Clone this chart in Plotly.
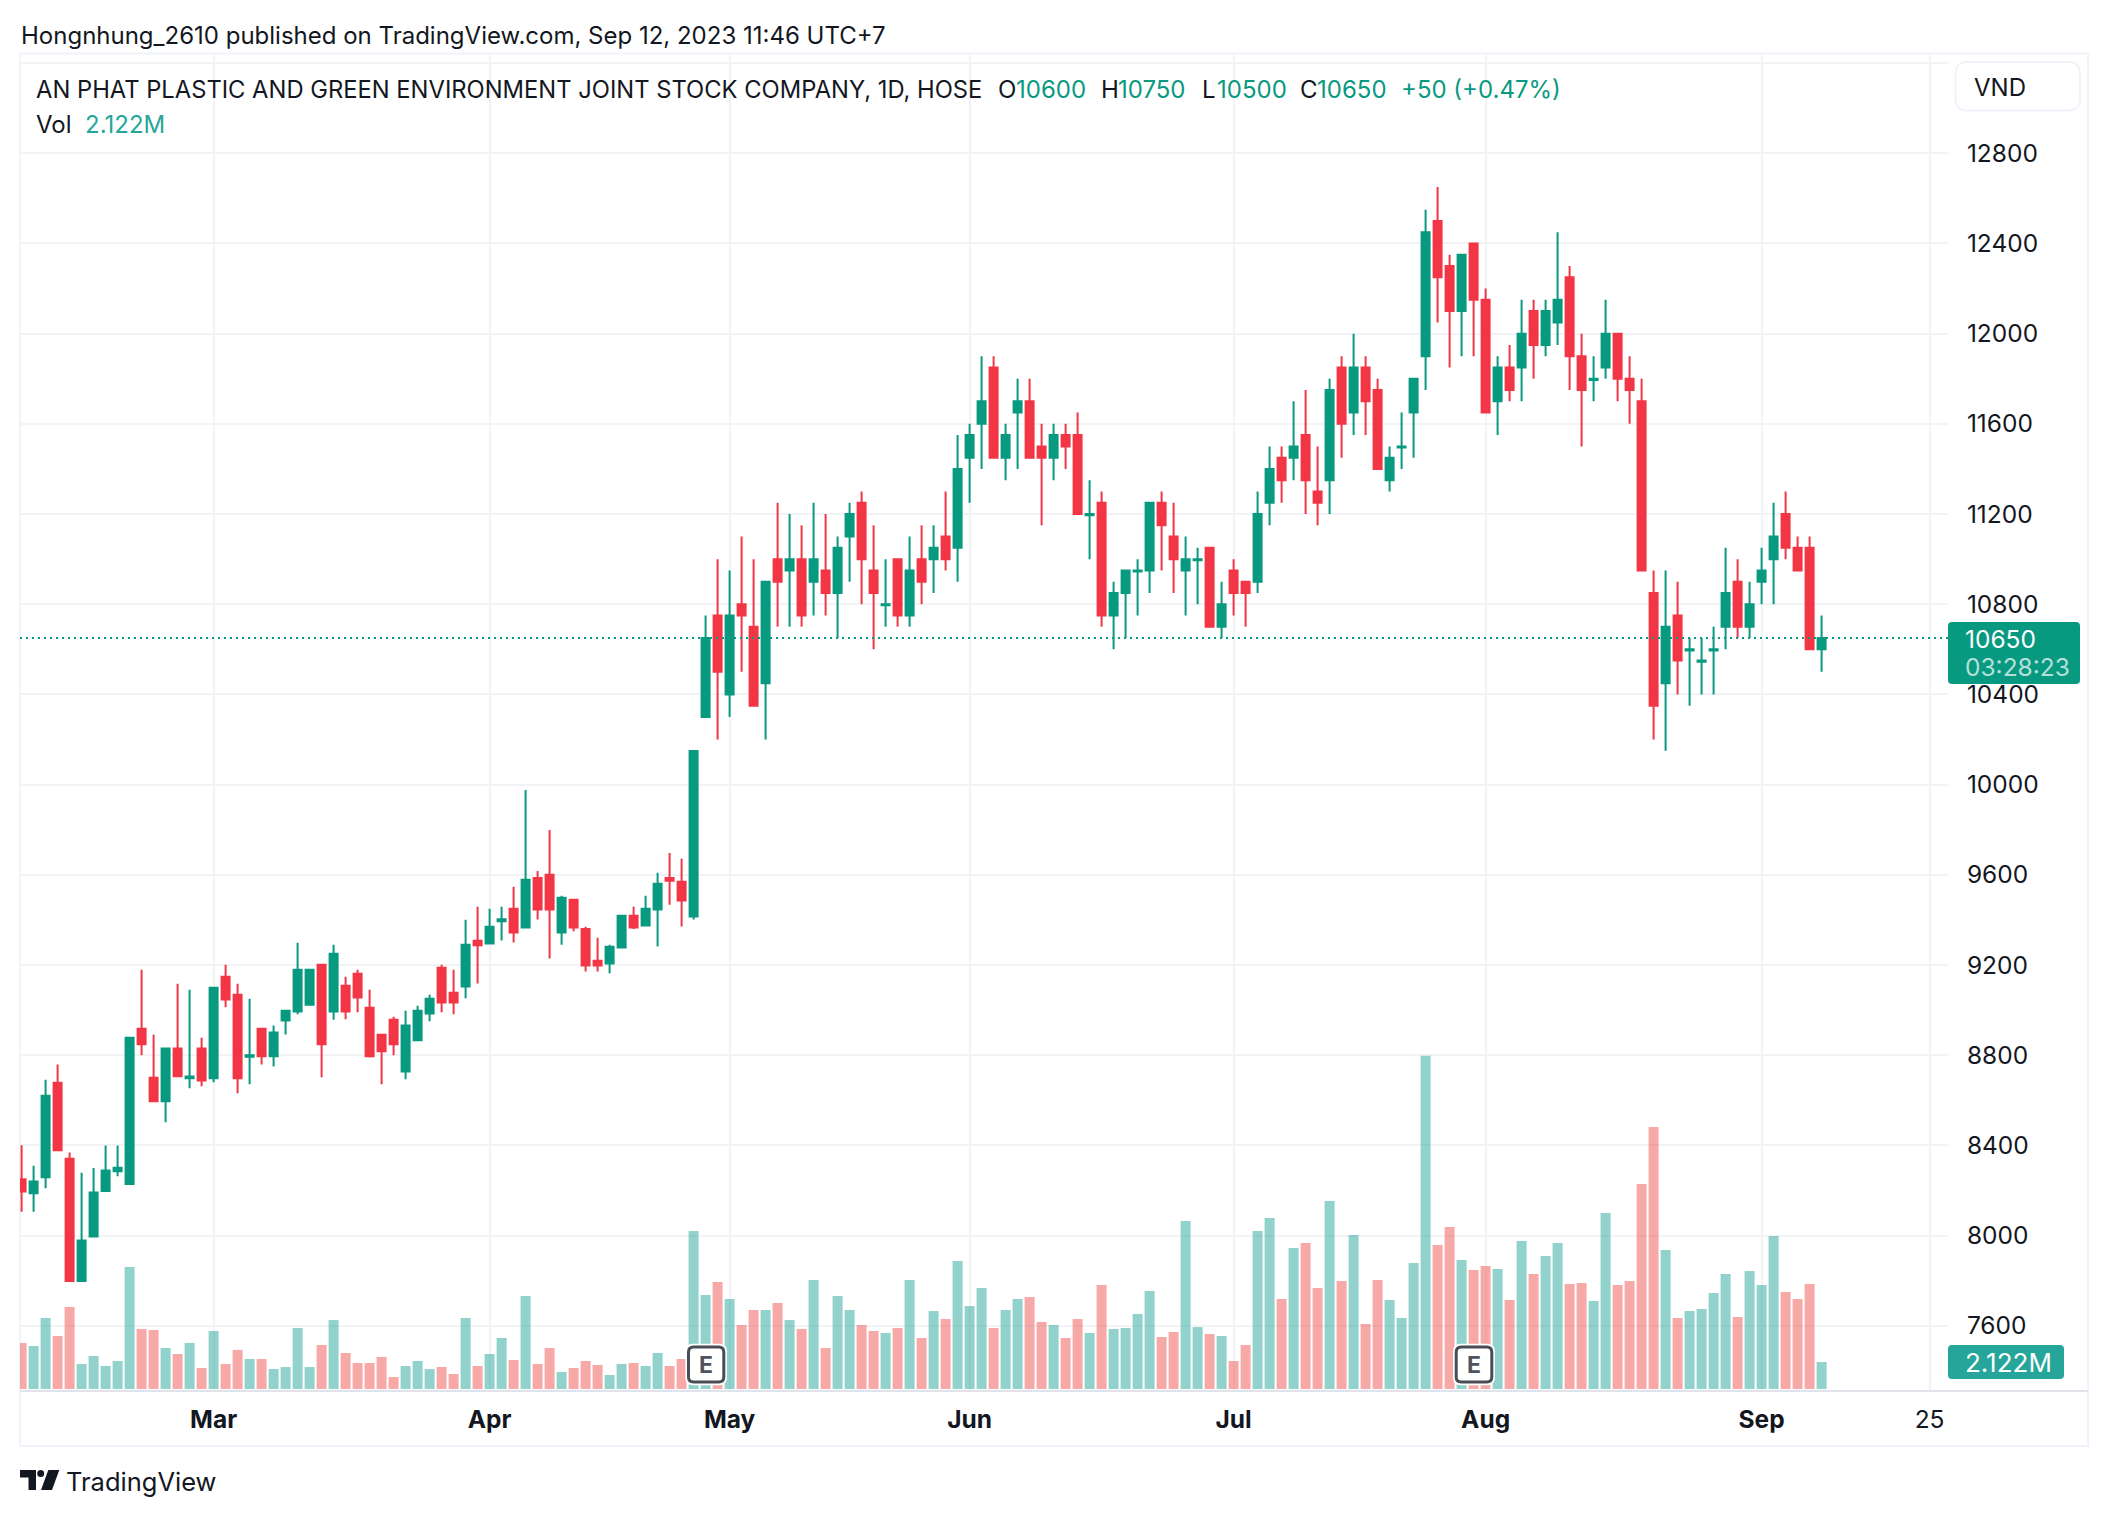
import plotly.graph_objects as go

W, H = 2108, 1516
L, R, T, B = 20, 1948, 54, 1391
FONT = "Inter"
INK = "#131722"
UP, DOWN = "#089981", "#f23645"
VOL_UP, VOL_DOWN = "rgba(38,166,154,0.5)", "rgba(239,83,80,0.5)"
GRID = "#f2f3f6"
FRAME = "#f0f3fa"

opens = [8250,8188,8259,8678,8341,7798,7996,8197,8285,8228,
 8917,8700,8595,8829,8698,8829,8697,9148,9068,8793,
 8917,8795,8954,8994,9024,9201,8994,9108,9161,9010,
 8891,8957,8728,8866,8985,9188,9077,9105,9307,9295,
 9394,9449,9366,9586,9600,9344,9489,9360,9219,9207,
 9278,9418,9375,9446,9586,9569,9415,10300,10750,10400,
 10800,10700,10450,11000,10950,11000,10900,10950,10850,11100,
 11250,10950,10795,11000,10750,11000,11000,11100,11050,11450,
 11600,11850,11450,11650,11700,11500,11450,11550,11550,11195,
 11250,10750,10850,10945,10950,11250,11100,10950,10995,11050,
 10700,10950,10900,10900,11250,11450,11450,11550,11300,11350,
 11850,11650,11850,11750,11350,11495,11650,11900,12500,12300,
 12100,12400,12150,11700,11850,11850,12100,11950,12050,12250,
 11900,11795,11850,12000,11800,11700,10850,10450,10750,10595,
 10545,10595,10700,10900,10700,10900,11000,11200,11050,11050,
 10600]
highs = [8400,8310,8691,8758,8368,8278,8300,8399,8399,8877,
 9179,8891,8829,9117,9090,8877,9099,9201,9117,9050,
 8917,8931,8997,9298,9179,9201,9290,9148,9179,9090,
 8891,8970,8997,9019,9068,9201,9179,9400,9458,9449,
 9458,9547,9976,9617,9799,9507,9489,9369,9321,9290,
 9418,9458,9507,9609,9697,9671,10149,10750,11000,10950,
 11100,11000,10900,11250,11200,11150,11250,11200,11100,11250,
 11300,11150,11000,11000,11100,11150,11150,11300,11550,11600,
 11900,11900,11600,11800,11800,11600,11600,11600,11650,11350,
 11300,10900,10950,11000,11250,11300,11250,11100,11050,11050,
 10900,11000,10900,11300,11500,11500,11700,11750,11500,11800,
 11900,12000,11900,11800,11500,11650,11800,12550,12650,12350,
 12350,12400,12200,11900,11950,12150,12150,12150,12450,12300,
 12000,11900,12150,12000,11900,11800,10950,10950,10900,10650,
 10650,10700,11050,11000,10900,11050,11250,11300,11100,11100,
 10750]
lows = [8105,8105,8210,8378,7798,7798,7996,8197,8263,8228,
 8799,8591,8502,8706,8653,8662,8680,9012,8631,8671,
 8759,8750,8892,8981,9019,8702,8957,8959,8990,8790,
 8671,8799,8693,8866,8950,8990,8981,9052,9118,9295,
 9309,9300,9366,9402,9229,9290,9349,9171,9171,9163,
 9278,9360,9375,9282,9467,9371,9402,10300,10200,10300,
 10500,10350,10200,10700,10700,10700,10750,10750,10650,10900,
 10800,10600,10700,10700,10700,10800,10850,10950,10900,11250,
 11400,11450,11350,11400,11450,11150,11350,11400,11200,11000,
 10700,10600,10650,10750,10850,10950,10850,10750,10800,10700,
 10650,10750,10700,10850,11150,11250,11350,11200,11150,11200,
 11450,11550,11550,11400,11300,11400,11450,11750,12050,11850,
 11900,11900,11650,11550,11700,11700,11800,11900,11950,11750,
 11500,11700,11800,11700,11600,10950,10200,10150,10400,10350,
 10400,10400,10600,10650,10650,10800,10800,11000,10950,10600,
 10500]
closes = [8195,8240,8620,8378,7798,7978,8191,8288,8301,8877,
 8848,8595,8829,8706,8705,8688,9099,9047,8697,8799,
 8795,8900,8997,9179,9179,8848,9250,8994,9056,8795,
 8817,8848,8931,8997,9050,9034,9034,9290,9287,9369,
 9403,9344,9578,9446,9446,9498,9366,9198,9198,9281,
 9418,9366,9449,9560,9573,9486,10149,10650,10500,10750,
 10750,10350,10900,10900,11000,10750,11000,10850,11050,11200,
 11000,10850,10800,10750,10950,10900,11050,11000,11400,11550,
 11700,11450,11550,11700,11450,11450,11550,11500,11200,11200,
 10750,10850,10950,10950,11250,11150,11000,11000,11000,10700,
 10800,10850,10850,11200,11400,11350,11500,11350,11250,11750,
 11600,11850,11700,11400,11450,11500,11800,12450,12250,12100,
 12350,12150,11650,11850,11750,12000,11950,12100,12150,11900,
 11750,11800,12000,11800,11750,10950,10350,10700,10550,10600,
 10550,10600,10850,10700,10800,10950,11100,11050,10950,10600,
 10650]
volumes_m = [3.62,3.38,5.58,4.17,6.45,1.97,2.59,1.81,2.20,9.59,
 4.72,4.64,3.22,2.75,3.62,1.65,4.56,1.97,3.07,2.36,
 2.36,1.57,1.73,4.79,1.73,3.46,5.42,2.83,2.04,2.04,
 2.52,0.94,1.81,2.20,1.57,1.73,1.18,5.58,1.81,2.75,
 4.01,2.28,7.31,1.97,3.22,1.34,1.65,2.20,1.89,1.10,
 1.97,2.04,1.81,2.83,1.81,2.36,12.42,7.39,8.41,7.07,
 5.03,6.21,6.21,6.76,5.42,4.72,8.57,3.22,7.31,6.21,
 5.03,4.56,4.40,4.79,8.57,4.01,6.13,5.50,10.06,6.52,
 7.94,4.79,6.21,7.07,7.23,5.27,5.03,4.01,5.50,4.40,
 8.17,4.72,4.79,5.90,7.70,4.09,4.48,13.20,4.87,4.32,
 4.17,2.20,3.46,12.42,13.44,7.07,11.08,11.48,7.94,14.78,
 8.49,12.10,5.11,8.57,7.00,5.58,9.90,26.20,11.32,12.73,
 10.14,9.35,9.67,9.43,7.00,11.63,9.04,10.45,11.48,8.25,
 8.33,6.92,13.83,8.17,8.49,16.11,20.59,10.93,5.58,6.13,
 6.29,7.55,9.04,5.66,9.27,8.17,12.03,7.62,7.07,8.25,
 2.12]
bars = list(range(len(opens)))

price_ticks = [7600,8000,8400,8800,9200,9600,10000,10400,10800,11200,11600,12000,12400,12800,13200]
price_labels = [str(p) for p in price_ticks[:-1]] + [""]
time_ticks = [16,39,59,79,101,122,145,159]
time_labels = ["<b>Mar</b>","<b>Apr</b>","<b>May</b>","<b>Jun</b>","<b>Jul</b>","<b>Aug</b>","<b>Sep</b>","25"]
last_price = 10650
earnings_px = [(687.3,725.0),(1455.0,1493.0)]

def fx(px):
    return (px - L) / (R - L)
def fy(py):
    return (B - py) / (B - T)

def rrect(x0, y0, x1, y1, r):
    a, b, c, d = fx(x0), fx(x1), fy(y0), fy(y1)
    rx, ry = r / (R - L), r / (B - T)
    return (f"M{a+rx},{c} L{b-rx},{c} Q{b},{c} {b},{c-ry} L{b},{d+ry} Q{b},{d} {b-rx},{d} "
            f"L{a+rx},{d} Q{a},{d} {a},{d+ry} L{a},{c-ry} Q{a},{c} {a+rx},{c} Z")

def poly(pts):
    return "M" + " L".join(f"{fx(x)},{fy(y)}" for x, y in pts) + " Z"

def pshape(path, fill="rgba(0,0,0,0)", line=None, width=0):
    return dict(type="path", xref="paper", yref="paper", path=path, fillcolor=fill,
                line=dict(color=line or "rgba(0,0,0,0)", width=width), layer="above")

def txt(x, y, s, color=INK, size=24, anchor="left", bold=False):
    return dict(xref="paper", yref="paper", x=fx(x), y=fy(y), text=f"<b>{s}</b>" if bold else s,
                showarrow=False, xanchor=anchor, yanchor="middle", borderpad=0,
                font=dict(family=FONT, size=size, color=color))

vol_colors = [VOL_UP if c >= o else VOL_DOWN for o, c in zip(opens, closes)]

fig = go.Figure()
fig.add_trace(go.Candlestick(
    x=bars, open=opens, high=highs, low=lows, close=closes, yaxis="y", xaxis="x",
    increasing=dict(line=dict(color=UP, width=2), fillcolor=UP),
    decreasing=dict(line=dict(color=DOWN, width=2), fillcolor=DOWN),
    whiskerwidth=0, showlegend=False))
fig.add_trace(go.Bar(x=bars, y=volumes_m, yaxis="y2", xaxis="x",
                     marker=dict(color=vol_colors, line=dict(width=0)), showlegend=False))

shapes = [
    dict(type="rect", xref="paper", yref="paper", x0=fx(20), x1=fx(2088), y0=fy(53.5), y1=fy(1446),
         line=dict(color=FRAME, width=2), fillcolor="rgba(0,0,0,0)", layer="below"),
    dict(type="line", xref="paper", yref="paper", x0=fx(20), x1=fx(2088), y0=fy(1391), y1=fy(1391),
         line=dict(color="#e0e3eb", width=2), layer="above"),
    dict(type="line", xref="paper", yref="y", x0=0, x1=1, y0=last_price, y1=last_price,
         line=dict(color=UP, width=2, dash="2px,4px"), layer="above"),
    pshape(rrect(1948, 622, 2080, 684, 4), fill=UP),
    pshape(rrect(1948, 1345, 2064, 1379, 4), fill="#26a69a"),
    pshape(rrect(1955.5, 62, 2080, 110.5, 12), fill="#ffffff", line=FRAME, width=2),
    pshape(poly([(20,1470),(36,1470),(36,1490),(28.5,1490),(28.5,1477.5),(20,1477.5)]), fill=INK),
    pshape(poly([(48.3,1470),(59.3,1470),(52,1490),(41,1490)]), fill=INK),
    dict(type="circle", xref="paper", yref="paper", x0=fx(37.2), x1=fx(44.2), y0=fy(1470), y1=fy(1477),
         fillcolor=INK, line=dict(width=0), layer="above"),
]
annotations = [
    txt(20, 36, "Hongnhung_2610 published on TradingView.com, Sep 12, 2023 11:46 UTC+7", size=24),
    txt(35, 89.5, "AN PHAT PLASTIC AND GREEN ENVIRONMENT JOINT STOCK COMPANY, 1D, HOSE", size=23.75),
    txt(997, 89.5, "O"), txt(1015, 89.5, "10600", UP),
    txt(1100, 89.5, "H"), txt(1117, 89.5, "10750", UP),
    txt(1201, 89.5, "L"), txt(1215.5, 89.5, "10500", UP),
    txt(1299, 89.5, "C"), txt(1316, 89.5, "10650", UP),
    txt(1400, 89.5, "+50 (+0.47%)", UP),
    txt(35, 124, "Vol"), txt(84, 124, "2.122M", "#26a69a"),
    txt(1973, 87.5, "VND"),
    txt(1964, 638.5, "10650", "#ffffff", 24.5),
    txt(1964, 667, "03:28:23", "#b5e0d9", 24.5),
    txt(1964, 1362.5, "2.122M", "#ffffff", 26),
    txt(65, 1481.5, "TradingView", size=25.5),
]
for x0, x1 in earnings_px:
    shapes.append(pshape(rrect(x0-2, 1343.7, x1+2, 1385.3, 8), fill="#ffffff"))
    shapes.append(pshape(rrect(x0+1.2, 1347, x1-1.2, 1382, 5), fill="#ffffff", line="#4a4d58", width=3))
    annotations.append(txt((x0+x1)/2, 1364.5, "E", "#50535e", 23, "center", True))

fig.update_layout(
    width=W, height=H, margin=dict(l=L, r=W-R, t=T, b=H-B, pad=0, autoexpand=False),
    paper_bgcolor="#ffffff", plot_bgcolor="#ffffff", showlegend=False, hovermode=False,
    boxgap=1/3, boxgroupgap=0, bargap=1/6, font=dict(family=FONT, color=INK, size=24),
    xaxis=dict(range=[(L-21.6)/12, (R-21.6)/12], tickmode="array", tickvals=time_ticks, ticktext=time_labels,
               showgrid=True, gridcolor=GRID, gridwidth=2, zeroline=False, showline=False,
               ticks="outside", ticklen=7, tickcolor="rgba(0,0,0,0)", tickangle=0,
               tickfont=dict(family=FONT, size=24.5, color=INK), rangeslider=dict(visible=False)),
    yaxis=dict(range=[7310.4, 13240.4], side="right", tickmode="array", tickvals=price_ticks, ticktext=price_labels,
               showgrid=True, gridcolor=GRID, gridwidth=2, zeroline=False, showline=False,
               ticks="outside", ticklen=13, tickcolor="rgba(0,0,0,0)",
               tickfont=dict(family=FONT, size=24.5, color=INK)),
    yaxis2=dict(range=[-0.157, 104.93], overlaying="y", side="right", showgrid=False, zeroline=False,
                showticklabels=False, ticks="", showline=False),
    shapes=shapes, annotations=annotations,
)
fig.write_html("out.html", config=dict(displayModeBar=False),
               post_script="document.body.style.margin='0';document.documentElement.style.overflow='hidden';")
